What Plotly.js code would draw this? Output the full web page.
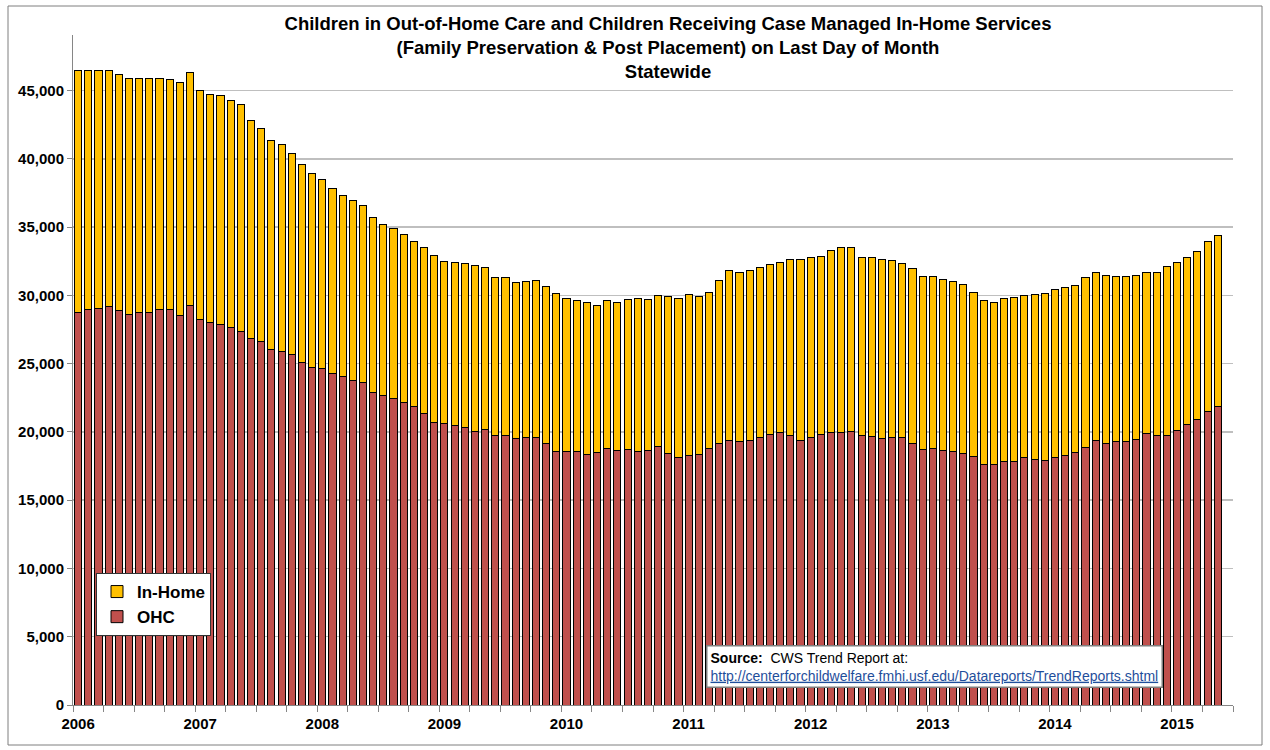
<!DOCTYPE html>
<html><head><meta charset="utf-8">
<script src="https://cdn.plot.ly/plotly-3.0.1.min.js"></script>
<style>html,body{margin:0;padding:0;background:#fff}#chart{width:1270px;height:750px}</style>
</head><body><div id="chart"></div>
<script>
// Month slots: Jan 2006 .. Jun 2015 (June 2015 slot is empty in the source)
const yearLabels = ['2006','2007','2008','2009','2010','2011','2012','2013','2014','2015'];
const slotCount = 114;

// Children in Out-of-Home Care (OHC), Jan 2006 .. May 2015
const ohc = [
28720,28960,29010,29160,28890,28590,28720,28720,28960,28960,28520,29300,
28230,28010,27880,27660,27370,26820,26600,26030,25880,25640,25100,24690,
24620,24320,24030,23740,23660,22880,22680,22420,22130,21850,21340,20680,
20610,20460,20340,20070,20150,19710,19710,19490,19560,19630,19140,18560,
18560,18560,18340,18480,18780,18630,18700,18560,18630,18900,18460,18120,
18260,18320,18760,19120,19410,19270,19410,19630,19820,19970,19750,19410,
19630,19820,19960,19970,20040,19750,19680,19490,19630,19560,19190,18700,
18760,18630,18560,18410,18170,17630,17630,17820,17850,18100,18010,17880,
18100,18300,18480,18890,19340,19140,19270,19320,19470,19860,19710,19710,
20110,20580,20920,21520,21890
];
// Children receiving case managed In-Home services
const inHome = [
17780,17540,17490,17340,17310,17310,17180,17180,16940,16840,17050,17000,
16770,16720,16780,16590,16590,15990,15600,15290,15150,14750,14460,14210,
13840,13500,13300,13230,12900,12800,12510,12470,12300,12140,12160,12240,
11880,11920,11970,12090,11910,11570,11570,11450,11450,11450,11510,11620,
11230,11040,11180,10820,10820,10820,11020,11230,11060,11090,11470,11650,
11800,11610,11470,11940,12390,12380,12390,12430,12460,12430,12920,13260,
13140,13010,13370,13580,13510,13020,13090,13160,12920,12790,12750,12660,
12600,12510,12430,12360,12060,12010,11820,11970,11980,11890,12050,12280,
12330,12280,12250,12410,12370,12300,12100,12050,11970,11850,11960,12380,
12280,12230,12330,12450,12530
];

const xIdx = ohc.map((_, i) => i);
const yearTickVals = yearLabels.map((_, k) => k * 12);
const quarterTicks = [];
for (let b = 0; b <= slotCount; b += 3) quarterTicks.push(b - 0.5);

// layout geometry (pixels)
const W = 1270, H = 750, ML = 73, MR = 37, MT = 35, MB = 45;
const PW = W - ML - MR, PH = H - MT - MB;
const px = v => (v - ML) / PW;
const py = v => (H - MB - v) / PH;
const FONT = 'Liberation Sans, Arial, sans-serif';

const lineCol = '#000000';
const traces = [
  {type:'bar', name:'OHC', x:xIdx, y:ohc,
   marker:{color:'#C0504D', line:{color:lineCol, width:1}}, hoverinfo:'y+name'},
  {type:'bar', name:'In-Home', x:xIdx, y:inHome,
   marker:{color:'#FFC000', line:{color:lineCol, width:1}}, hoverinfo:'y+name'}
];

const layout = {
  width: W, height: H,
  margin: {l: ML, r: MR, t: MT, b: MB, pad: 0},
  paper_bgcolor: '#ffffff', plot_bgcolor: '#ffffff',
  barmode: 'stack', bargap: 0.3,
  showlegend: true,
  font: {family: FONT, color: '#000'},
  title: {
    text: '<b>Children in Out-of-Home Care and Children Receiving Case Managed In-Home Services</b><br><b>(Family Preservation &amp; Post Placement) on Last Day of Month</b><br><b>Statewide</b>',
    font: {family: FONT, size: 18.5, color: '#000'},
    x: 668 / W, xanchor: 'center', xref: 'container',
    y: 1 - 30 / H, yanchor: 'middle', yref: 'container'
  },
  xaxis: {
    range: [-0.5, slotCount - 0.5],
    tickmode: 'array', tickvals: yearTickVals, ticktext: yearLabels,
    ticks: '', showgrid: false, zeroline: false,
    showline: true, linecolor: '#868686', linewidth: 1,
    ticklabelstandoff: 5,
    tickfont: {family: FONT, size: 15, color: '#000', weight: 'bold'},
    minor: {tickmode: 'array', tickvals: quarterTicks, ticks: 'outside', ticklen: 6, tickcolor: '#868686', tickwidth: 1, showgrid: false},
    fixedrange: true
  },
  yaxis: {
    range: [0, 49080],
    tickmode: 'linear', tick0: 0, dtick: 5000, tickformat: ',d',
    ticks: 'outside', ticklen: 5, tickcolor: '#868686',
    showgrid: true, gridcolor: '#BFBFBF', gridwidth: 1.5,
    zeroline: false, showline: true, linecolor: '#868686', linewidth: 1,
    tickfont: {family: FONT, size: 15, color: '#000', weight: 'bold'},
    fixedrange: true
  },
  legend: {
    x: px(96), y: py(573), xanchor: 'left', yanchor: 'top',
    traceorder: 'reversed',
    bgcolor: '#ffffff', bordercolor: '#333333', borderwidth: 1,
    font: {family: FONT, size: 17, color: '#000', weight: 'bold'}
  },
  annotations: [{
    xref: 'paper', yref: 'paper', x: px(706), y: py(645), xanchor: 'left', yanchor: 'top',
    align: 'left', showarrow: false,
    text: '<b>Source:</b>  CWS Trend Report at:<br><span style="fill:#1F4E9B;text-decoration:underline">http://centerforchildwelfare.fmhi.usf.edu/Datareports/TrendReports.shtml</span>',
    font: {family: FONT, size: 14, color: '#000'},
    bgcolor: '#ffffff', bordercolor: '#7F7F7F', borderwidth: 1.5, borderpad: 3
  }],
  shapes: [{
    type: 'rect', xref: 'paper', yref: 'paper', layer: 'below',
    x0: px(8), x1: px(1262), y0: py(745), y1: py(6),
    line: {color: '#7F7F7F', width: 1}, fillcolor: 'rgba(0,0,0,0)'
  }]
};

Plotly.newPlot('chart', traces, layout, {displayModeBar: false, staticPlot: true});
</script>
</body></html>
